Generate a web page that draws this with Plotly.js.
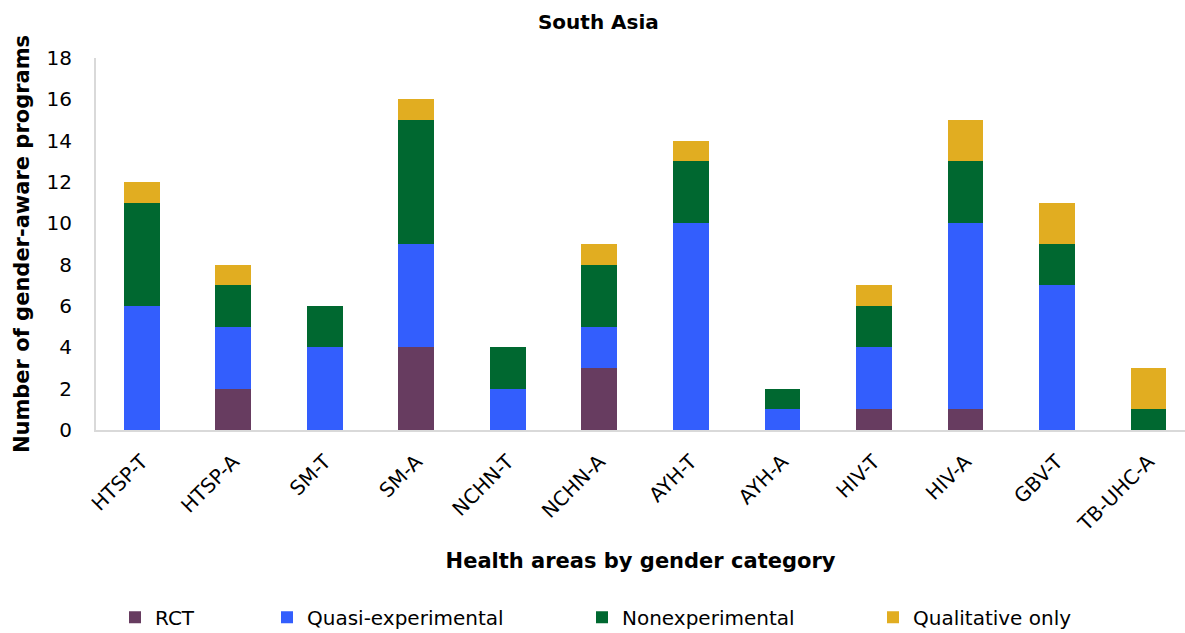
<!DOCTYPE html>
<html>
<head>
<meta charset="utf-8">
<script src="https://cdn.plot.ly/plotly-3.0.1.min.js"></script>
<style>html,body{margin:0;padding:0;background:#fff;}#chart{width:1185px;height:633px;}</style>
</head>
<body>
<div id="chart"></div>
<script>
const categories = ["HTSP-T","HTSP-A","SM-T","SM-A","NCHN-T","NCHN-A","AYH-T","AYH-A","HIV-T","HIV-A","GBV-T","TB-UHC-A"];
const rct           = [0, 2, 0, 4, 0, 3, 0, 0, 1, 1, 0, 0];
const quasi         = [6, 3, 4, 5, 2, 2, 10, 1, 3, 9, 7, 0];
const nonexp        = [5, 2, 2, 6, 2, 3, 3, 1, 2, 3, 2, 1];
const qualitative   = [1, 1, 0, 1, 0, 1, 1, 0, 1, 2, 2, 2];
const seriesNames = ["RCT", "Quasi-experimental", "Nonexperimental", "Qualitative only"];
const yTicks = [0, 2, 4, 6, 8, 10, 12, 14, 16, 18];

const colors = ["#673C60", "#335EFD", "#006830", "#E1AD21"];
const seriesData = [rct, quasi, nonexp, qualitative];
const legendNames = ["legend", "legend2", "legend3", "legend4"];
const legendX = [115, 267, 582, 873];

const FONT = "DejaVu Sans, sans-serif";

const traces = seriesData.map((vals, i) => ({
  type: "bar",
  name: seriesNames[i],
  x: categories,
  y: vals,
  width: 0.39,
  marker: {color: colors[i], line: {width: 0}},
  legend: legendNames[i],
  hoverinfo: "x+y+name"
}));

const layout = {
  width: 1185,
  height: 633,
  barmode: "stack",
  paper_bgcolor: "#ffffff",
  plot_bgcolor: "#ffffff",
  margin: {l: 96, r: 0, t: 58, b: 203},
  font: {family: FONT, color: "#000000", size: 18},
  title: {
    text: "<b>South Asia</b>",
    x: 0.505, xanchor: "center", y: 0.965, yanchor: "middle",
    font: {family: FONT, size: 20, color: "#000000"}
  },
  xaxis: {
    type: "category",
    range: [-0.5, 11.4],
    tickangle: -45,
    tickfont: {family: FONT, size: 20, color: "#000000"},
    ticklabelstandoff: 10,
    showline: true, linecolor: "#D9D9D9", linewidth: 2,
    showgrid: false, ticks: "", zeroline: false,
    title: {text: "<b>Health areas by gender category</b>", font: {family: FONT, size: 21, color: "#000000"}, standoff: 18}
  },
  yaxis: {
    range: [0, 18],
    tickvals: yTicks,
    ticktext: yTicks.map(String),
    tickfont: {family: FONT, size: 20, color: "#000000"},
    showline: true, linecolor: "#D9D9D9", linewidth: 2,
    showgrid: false, ticks: "", zeroline: false,
    ticklabelstandoff: 18,
    title: {text: "<b>Number of gender-aware programs</b>", font: {family: FONT, size: 21, color: "#000000"}, standoff: 11}
  },
  showlegend: true
};

legendNames.forEach((ln, i) => {
  layout[ln] = {
    orientation: "h",
    xref: "container", yref: "container",
    x: legendX[i] / 1185, xanchor: "left",
    y: 0.025, yanchor: "middle",
    font: {family: FONT, size: 20, color: "#000000"},
    bgcolor: "rgba(0,0,0,0)",
    itemwidth: 30,
    tracegroupgap: 0
  };
});

Plotly.newPlot("chart", traces, layout, {displayModeBar: false, staticPlot: true});
</script>
</body>
</html>
